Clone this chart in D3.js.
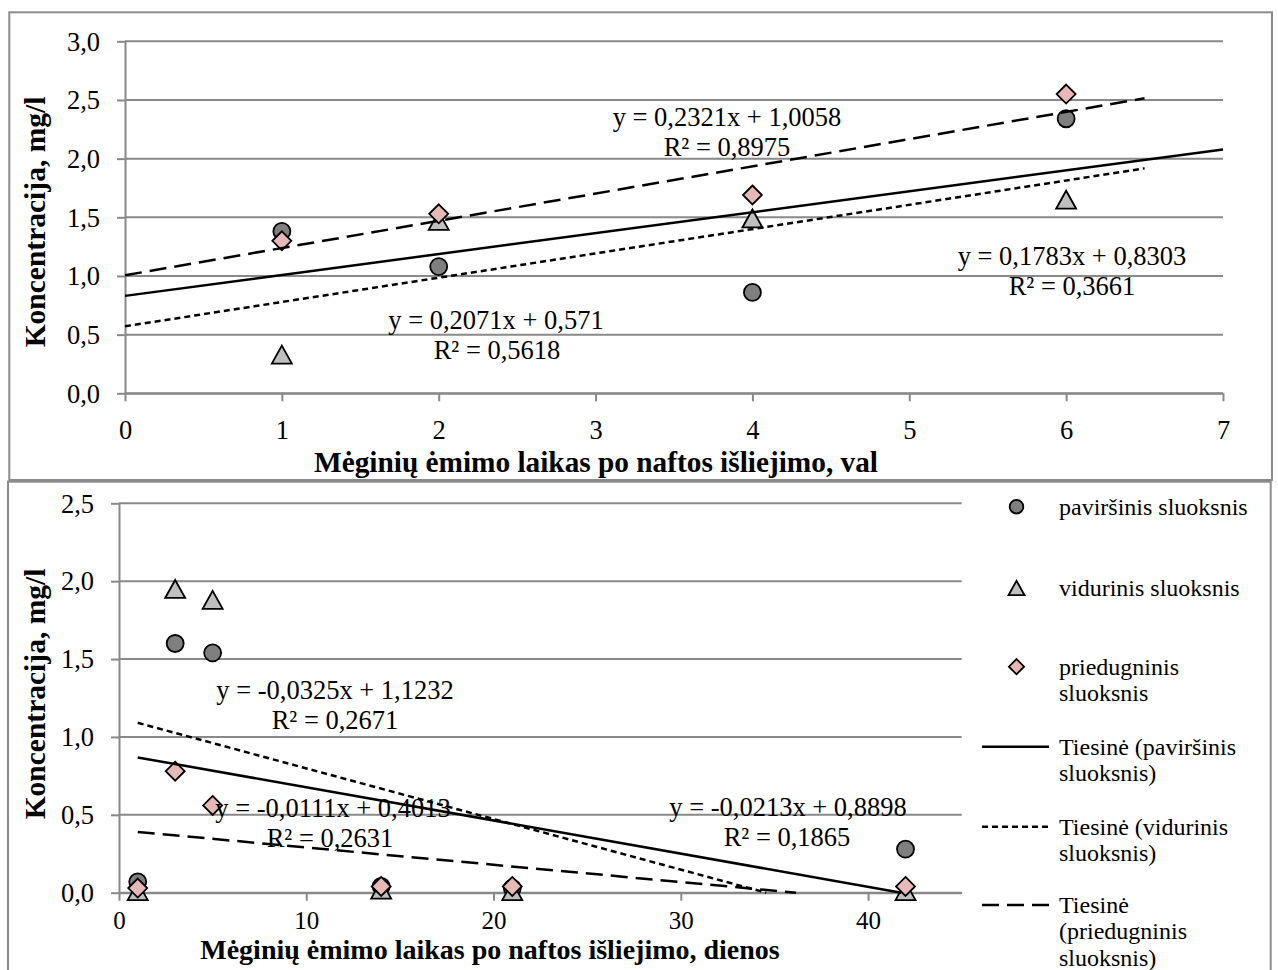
<!DOCTYPE html>
<html>
<head>
<meta charset="utf-8">
<script src="https://cdn.jsdelivr.net/npm/d3@7"></script>
<style>
  body { margin: 0; background: #fff; }
  svg { display: block; font-family: "Liberation Serif", "Times New Roman", serif; }
</style>
</head>
<body>
<svg id="chart" width="1278" height="970"></svg>
<script>
// top chart: sampling time in hours
const hours = [1, 2, 4, 6];
const hoursSurface = [1.38, 1.08, 0.86, 2.34];
const hoursMiddle = [0.33, 1.47, 1.49, 1.65];
const hoursBottom = [1.30, 1.53, 1.69, 2.55];
const hoursSlope = [0.1783, 0.2071, 0.2321];
const hoursIntercept = [0.8303, 0.571, 1.0058];
const hoursR2 = [0.3661, 0.5618, 0.8975];
const hoursTrendRange = [[0, 7], [0, 6.5], [0, 6.5]];
const hoursTicks = [0, 1, 2, 3, 4, 5, 6, 7];

// bottom chart: sampling time in days
const days = [1, 3, 5, 14, 21, 42];
const daysSurface = [0.07, 1.60, 1.54, 0.04, 0.03, 0.28];
const daysMiddle = [0.01, 1.95, 1.88, 0.02, 0.01, 0.01];
const daysBottom = [0.03, 0.78, 0.56, 0.04, 0.04, 0.04];
const daysSlope = [-0.0213, -0.0325, -0.0111];
const daysIntercept = [0.8898, 1.1232, 0.4013];
const daysR2 = [0.1865, 0.2671, 0.2631];
const daysTrendRange = [[1, 42], [1, 42], [1, 42]];
const daysTicks = [0, 10, 20, 30, 40];

const shapes = ["circle", "triangle", "diamond"];
const fills = ["#7f7f7f", "#bfbfbf", "#e6b9b8"];
const dashes = [null, "6,4", "17,8"];
const legendLabels = [
  ["paviršinis sluoksnis"],
  ["vidurinis sluoksnis"],
  ["priedugninis", "sluoksnis"],
  ["Tiesinė (paviršinis", "sluoksnis)"],
  ["Tiesinė (vidurinis", "sluoksnis)"],
  ["Tiesinė", "(priedugninis", "sluoksnis)"]
];

const comma = v => String(v).replace(".", ",");

function markerPath(shape, k) {
  if (shape == "circle") return d3.symbol(d3.symbolCircle, Math.PI * 8.5 * 8.5 * k * k)();
  if (shape == "triangle") return `M0,${-9 * k}L${10 * k},${9 * k}L${-10 * k},${9 * k}Z`;
  return `M0,${-9.5 * k}L${9.5 * k},0L0,${9.5 * k}L${-9.5 * k},0Z`;
}

class TrendScatter {
  constructor(_config, _data) {
    this.config = _config;
    this.data = _data;
    this.initVis();
  }

  initVis() {
    let vis = this;
    let c = vis.config;

    vis.svg = d3.select(c.parentElement);

    vis.svg
      .append("rect")
      .attr("x", c.frame[0])
      .attr("y", c.frame[1])
      .attr("width", c.frame[2])
      .attr("height", c.frame[3])
      .attr("fill", "none")
      .attr("stroke", "#8c8c8c")
      .attr("stroke-width", 2);

    vis.chart = vis.svg
      .append("g")
      .attr("transform", `translate(${c.left}, ${c.top})`);

    vis.xScale = d3.scaleLinear().domain([0, c.xMax]).range([0, c.width]);
    vis.yScale = d3.scaleLinear().domain([0, c.yMax]).range([c.height, 0]);

    vis.render();
  }

  render() {
    let vis = this;
    let c = vis.config;

    // horizontal gridlines
    vis.chart
      .selectAll(".grid")
      .data(d3.range(0, c.yMax + 0.001, 0.5))
      .enter()
      .append("line")
      .attr("class", "grid")
      .attr("x1", 0)
      .attr("x2", c.width)
      .attr("y1", d => vis.yScale(d))
      .attr("y2", d => vis.yScale(d))
      .attr("stroke", "#898989")
      .attr("stroke-width", 2);

    let yAxis = vis.chart
      .append("g")
      .call(
        d3.axisLeft(vis.yScale)
          .tickValues(d3.range(0, c.yMax + 0.001, 0.5))
          .tickSize(8)
          .tickSizeOuter(0)
          .tickPadding(17)
          .tickFormat(d => comma(d.toFixed(1)))
      );

    let xAxis = vis.chart
      .append("g")
      .attr("transform", `translate(0, ${c.height})`)
      .call(
        d3.axisBottom(vis.xScale)
          .tickValues(c.xTicks)
          .tickSize(8)
          .tickSizeOuter(0)
          .tickFormat(d3.format("d"))
      );

    [yAxis, xAxis].forEach(ax => {
      ax.selectAll("path, line").attr("stroke", "#898989").attr("stroke-width", 2);
      ax.selectAll("text")
        .attr("fill", "#000")
        .style("font-size", "26.5px")
        .style("font-family", "'Liberation Serif', serif");
    });
    yAxis.selectAll("text").attr("dy", "0.33em");
    xAxis.selectAll("text")
      .attr("y", c.xLabelY)
      .attr("dy", "0.33em")
      .style("font-size", c.xLabelSize + "px");

    // axis titles
    vis.svg
      .append("text")
      .attr("x", c.xTitlePos[0])
      .attr("y", c.xTitlePos[1])
      .attr("text-anchor", "middle")
      .style("font-size", c.xTitleSize + "px")
      .style("font-weight", "bold")
      .text(c.xTitle);

    vis.svg
      .append("text")
      .attr("transform", `translate(${c.yTitlePos[0]}, ${c.yTitlePos[1]}) rotate(-90)`)
      .attr("text-anchor", "middle")
      .style("font-size", "29.5px")
      .style("font-weight", "bold")
      .text("Koncentracija, mg/l");

    vis.drawMarkers();
    vis.drawTrends();
    vis.drawEquations();
  }

  drawMarkers() {
    let vis = this;
    vis.data.series.forEach((values, s) => {
      vis.chart
        .selectAll(".marker-" + s)
        .data(values.map((v, i) => ({ x: vis.data.x[i], y: v })))
        .enter()
        .append("path")
        .attr("class", "marker-" + s)
        .attr("transform", d => `translate(${vis.xScale(d.x)}, ${vis.yScale(d.y)})`)
        .attr("d", markerPath(shapes[s], 1))
        .attr("fill", fills[s])
        .attr("stroke", "#000")
        .attr("stroke-width", 1.8);
    });
  }

  drawTrends() {
    let vis = this;
    let trends = vis.data.slope.map((a, i) => {
      let b = vis.data.intercept[i];
      let x0 = vis.data.range[i][0];
      let x1 = vis.data.range[i][1];
      // trendline stops where it meets the x axis
      if (a < 0) x1 = Math.min(x1, -b / a);
      return { a: a, b: b, x0: x0, x1: x1, idx: i };
    });

    vis.chart
      .selectAll(".trend")
      .data(trends)
      .enter()
      .append("line")
      .attr("class", "trend")
      .attr("x1", d => vis.xScale(d.x0))
      .attr("y1", d => vis.yScale(d.a * d.x0 + d.b))
      .attr("x2", d => vis.xScale(d.x1))
      .attr("y2", d => vis.yScale(d.a * d.x1 + d.b))
      .attr("stroke", "#000")
      .attr("stroke-width", 2.5)
      .attr("stroke-dasharray", d => dashes[d.idx]);
  }

  drawEquations() {
    let vis = this;
    let c = vis.config;
    vis.data.slope.forEach((a, i) => {
      let pos = c.eqPos[i];
      let g = vis.svg.append("g").style("font-size", "26.5px");
      g.append("text")
        .attr("x", pos[0])
        .attr("y", pos[1])
        .attr("dy", "0.33em")
        .attr("text-anchor", "middle")
        .text(`y = ${comma(a)}x + ${comma(vis.data.intercept[i])}`);
      g.append("text")
        .attr("x", pos[2])
        .attr("y", pos[1] + 30)
        .attr("dy", "0.33em")
        .attr("text-anchor", "middle")
        .text(`R² = ${comma(vis.data.r2[i])}`);
    });
  }
}

new TrendScatter(
  {
    parentElement: "#chart",
    frame: [9.3, 12.3, 1262.7, 467.7],
    left: 125,
    top: 41.3,
    width: 1098,
    height: 352,
    xMax: 7,
    yMax: 3,
    xTicks: hoursTicks,
    xLabelY: 36.7,
    xLabelSize: 26.5,
    xTitle: "Mėginių ėmimo laikas po naftos išliejimo, val",
    xTitleSize: 29.3,
    xTitlePos: [596, 472],
    yTitlePos: [45, 222],
    eqPos: [[1072, 256, 1072], [496, 320, 497], [727, 117, 727]]
  },
  {
    x: hours,
    series: [hoursSurface, hoursMiddle, hoursBottom],
    slope: hoursSlope,
    intercept: hoursIntercept,
    r2: hoursR2,
    range: hoursTrendRange
  }
);

new TrendScatter(
  {
    parentElement: "#chart",
    frame: [8, 481.7, 1262.7, 500],
    left: 119,
    top: 503.3,
    width: 842.7,
    height: 389.4,
    xMax: 45,
    yMax: 2.5,
    xTicks: daysTicks,
    xLabelY: 28,
    xLabelSize: 25,
    xTitle: "Mėginių ėmimo laikas po naftos išliejimo, dienos",
    xTitleSize: 28,
    xTitlePos: [490, 959],
    yTitlePos: [45, 694],
    eqPos: [[788, 807, 787], [335, 690, 335], [333, 808, 330]]
  },
  {
    x: days,
    series: [daysSurface, daysMiddle, daysBottom],
    slope: daysSlope,
    intercept: daysIntercept,
    r2: daysR2,
    range: daysTrendRange
  }
);

// legend of the bottom chart
let legend = d3.select("#chart").append("g").style("font-size", "24px");
let rowY = [506.7, 588, 666.7, 746.7, 826.7, 905];
legendLabels.forEach((lines, i) => {
  let row = legend.append("g").attr("transform", `translate(0, ${rowY[i]})`);
  if (i < 3) {
    row.append("path")
      .attr("transform", "translate(1016.5, 0)")
      .attr("d", markerPath(shapes[i], 0.8))
      .attr("fill", fills[i])
      .attr("stroke", "#000")
      .attr("stroke-width", 1.8);
  } else {
    row.append("line")
      .attr("x1", 982)
      .attr("x2", 1049)
      .attr("stroke", "#000")
      .attr("stroke-width", 2.5)
      .attr("stroke-dasharray", dashes[i - 3]);
  }
  row.selectAll("text")
    .data(lines)
    .enter()
    .append("text")
    .attr("x", 1059)
    .attr("y", (d, j) => j * 26.5)
    .attr("dy", "0.33em")
    .text(d => d);
});
</script>
</body>
</html>
